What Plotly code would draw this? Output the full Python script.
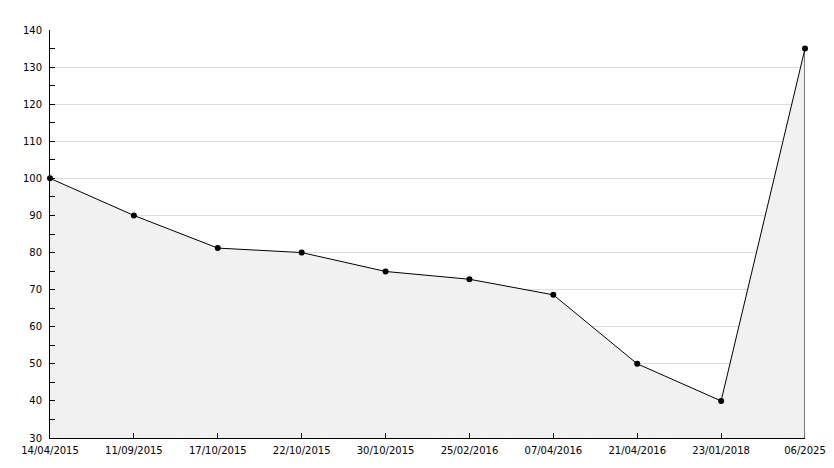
import plotly.graph_objects as go

dates = ["14/04/2015", "11/09/2015", "17/10/2015", "22/10/2015", "30/10/2015",
         "25/02/2016", "07/04/2016", "21/04/2016", "23/01/2018", "06/2025"]
values = [100, 90, 81.2, 80, 74.9, 72.8, 68.6, 50, 40, 135]
y_min, y_max = 30, 140

fig = go.Figure()
fig.add_trace(go.Scatter(
    x=dates, y=values, mode="lines+markers",
    fill="tozeroy", fillcolor="#f1f1f1",
    line=dict(color="black", width=1),
    marker=dict(color="black", size=6, symbol="circle"),
    cliponaxis=False, hoverinfo="x+y",
))
# closing edge of the filled area at the last point
fig.add_shape(type="line", xref="x", yref="y",
              x0=dates[-1], x1=dates[-1], y0=y_min, y1=values[-1],
              line=dict(color="black", width=1), layer="above")

# page body has an 8px default margin; compensate so the plot lands in place
fig.update_layout(
    width=826, height=460,
    margin=dict(l=42, r=29, t=22, b=30),
    paper_bgcolor="white", plot_bgcolor="white",
    showlegend=False,
    font=dict(family="DejaVu Sans", size=10, color="black"),
)
fig.update_xaxes(
    type="category", range=[0, len(dates) - 1], automargin=False,
    showline=True, linecolor="black", linewidth=1,
    ticks="inside", ticklen=5, tickcolor="black",
    ticklabelstandoff=3,
    showgrid=False, zeroline=False,
)
fig.update_yaxes(
    range=[y_min, y_max], dtick=10, tick0=0, automargin=False,
    showline=True, linecolor="black", linewidth=1,
    ticks="inside", ticklen=5, tickcolor="black",
    ticklabelstandoff=5,
    showgrid=True, gridcolor="#dddddd", gridwidth=1,
    zeroline=False,
    minor=dict(dtick=5, ticks="inside", ticklen=5, tickcolor="black", showgrid=False),
)

fig.write_html("out.html")
